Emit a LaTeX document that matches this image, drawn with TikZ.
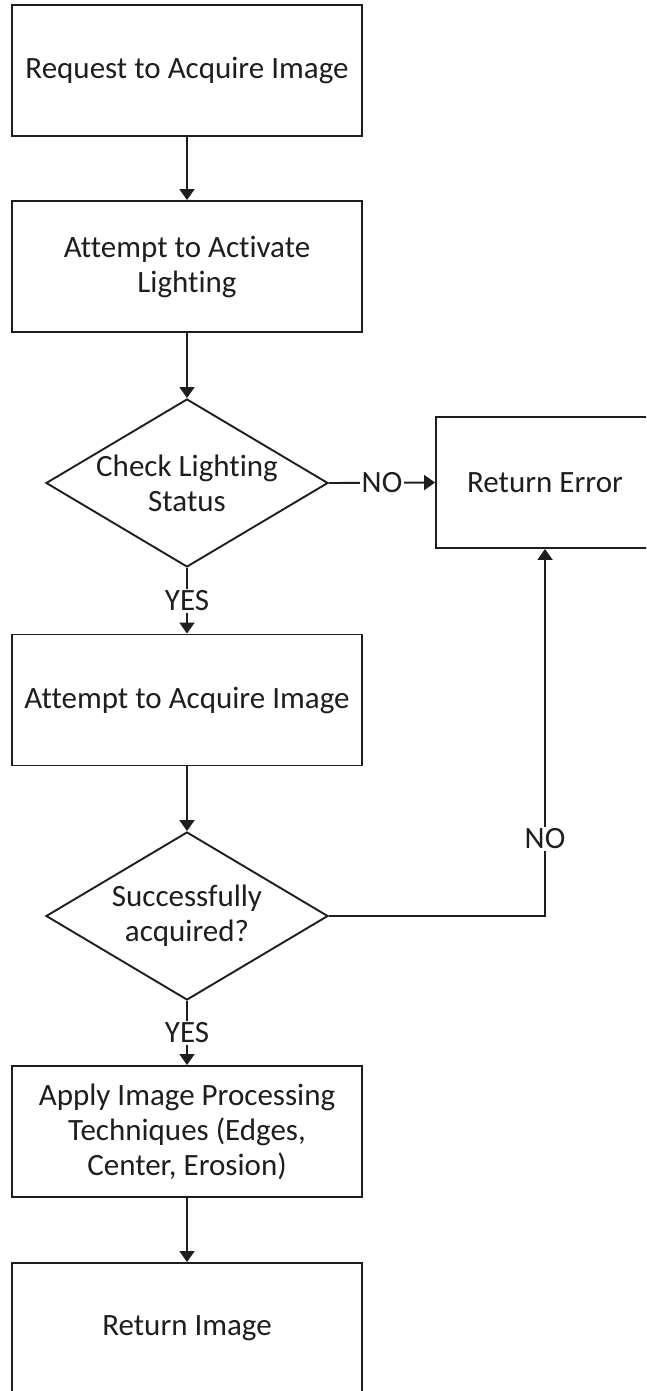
\documentclass[tikz,border=0pt]{standalone}
\usepackage{fontspec}
\setmainfont[RawFeature={-liga;-clig;-calt;-dlig}]{Carlito}
\usetikzlibrary{shapes.geometric,arrows.meta}
\definecolor{ln}{HTML}{1E1E1E}
\begin{document}
\begin{tikzpicture}[x=1pt,y=-1pt,
  every node/.style={font=\fontsize{31}{35}\selectfont, text=ln},
  procbox/.style={draw=ln, line width=1.9pt, minimum width=350pt, minimum height=131pt, align=center, inner sep=0pt},
  decision/.style={draw=ln, line width=1.9pt, diamond, minimum width=282pt, minimum height=168pt, inner sep=0pt},
  flow/.style={draw=ln, line width=1.9pt, -{Triangle[width=15pt,length=11pt]}},
  lbl/.style={fill=white, inner sep=2pt}]
\useasboundingbox (0,0) rectangle (646,1391);
\clip (0,0) rectangle (646,1391);
\node[procbox] (b1) at (187,70.5) {Request to Acquire Image};
\node[procbox] (b2) at (187,266.5) {Attempt to Activate\\Lighting};
\node[decision] (d1) at (187,483) {};
\node[align=center] (t1) at (187,483) {Check Lighting\\Status};
\node[procbox, minimum width=218pt] (re) at (545,482.5) {Return Error};
\node[procbox] (b3) at (187,700) {Attempt to Acquire Image};
\node[decision] (d2) at (187,916) {};
\node[align=center] (t2) at (187,916) {Successfully\\acquired?};
\node[procbox] (b4) at (187,1131.5) {Apply Image Processing\\Techniques (Edges,\\Center, Erosion)};
\node[procbox] (b5) at (187,1328.5) {Return Image};
\draw[flow] (b1.south) -- (b2.north);
\draw[flow] (b2.south) -- (d1.north);
\draw[flow] (d1.east) -- node[lbl] {NO} (re.west);
\draw[flow] (d1.south) -- node[lbl] {YES} (b3.north);
\draw[flow] (b3.south) -- (d2.north);
\draw[flow] (d2.east) -| node[lbl, pos=0.605] {NO} (re.south);
\draw[flow] (d2.south) -- node[lbl] {YES} (b4.north);
\draw[flow] (b4.south) -- (b5.north);
\end{tikzpicture}
\end{document}
